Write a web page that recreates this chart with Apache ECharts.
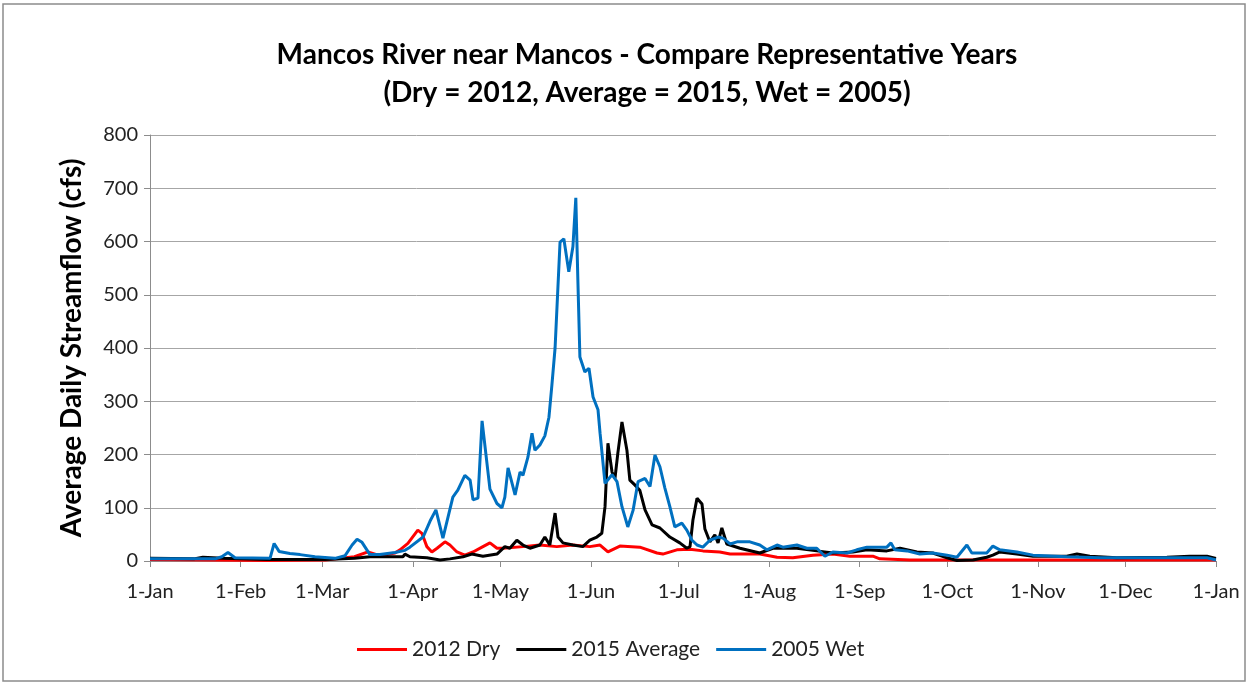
<!DOCTYPE html>
<html>
<head>
<meta charset="utf-8">
<title>Mancos River near Mancos</title>
<script src="https://cdn.jsdelivr.net/npm/echarts@6/dist/echarts.min.js"></script>
<style>
  html, body { margin: 0; padding: 0; background: #fff; }
  #chart { width: 1249px; height: 685px; }
</style>
</head>
<body>
<div id="chart"></div>
<script>
// x = day of year (0 = 1-Jan), y = cfs
var monthDays = [0, 31, 59, 90, 120, 151, 181, 212, 243, 273, 304, 334, 365];
var monthLabels = ["1-Jan", "1-Feb", "1-Mar", "1-Apr", "1-May", "1-Jun", "1-Jul",
  "1-Aug", "1-Sep", "1-Oct", "1-Nov", "1-Dec", "1-Jan"];
var yTicks = [0, 100, 200, 300, 400, 500, 600, 700, 800];

var seriesNames = ["2012 Dry", "2015 Average", "2005 Wet"];

// 2012 Dry
var dryData = [
  [0, 3], [20, 2], [40, 1], [60, 2], [70, 8], [74.6, 17], [78.7, 10], [83.9, 15],
  [85.6, 21], [88.3, 33], [91.7, 58], [93.1, 52], [94.8, 27], [96.5, 17], [98.3, 24],
  [101, 36], [102.7, 30], [105.1, 17], [107.8, 11], [110.6, 17], [114, 27], [116.4, 34],
  [118.8, 24], [120.8, 24], [127.7, 27], [133.5, 30], [139.3, 27], [144.8, 30],
  [150.6, 27], [154.1, 30], [156.8, 17], [160.9, 28], [167.7, 26], [173.6, 15],
  [175.6, 13], [180.4, 21], [184.9, 22], [189.3, 19], [195.1, 17], [198.6, 13],
  [208.8, 13], [214.7, 7], [220.1, 6], [227, 11], [233.8, 13], [239.6, 9], [247.5, 9],
  [249.9, 4], [260.2, 2], [268, 2], [300, 2], [340, 2], [365, 2]
];

// 2015 Average
var avgData = [
  [0, 5], [15, 4], [18.1, 7], [25, 5], [40, 3], [60, 3], [70, 5], [75.3, 8], [86.6, 8],
  [87.3, 13], [89, 8], [94.8, 6], [99.3, 2], [102.7, 4], [107.2, 8], [110.2, 13],
  [114, 9], [118.8, 13], [121.5, 27], [123.2, 24], [125.6, 39], [127.7, 30], [130.1, 24],
  [133.5, 30], [135.2, 45], [136.9, 30], [138.7, 90], [139.7, 45], [141.4, 34],
  [144.8, 30], [148.2, 27], [150.6, 39], [153, 45], [154.7, 52], [155.8, 102],
  [156.8, 221], [158.2, 167], [159.2, 155], [160.2, 203], [161.6, 261], [163.3, 208],
  [164.3, 152], [166, 143], [167.7, 133], [169.5, 96], [171.9, 68], [174.6, 62],
  [178, 45], [181.4, 34], [183.8, 24], [184.9, 27], [185.9, 77], [187.3, 118],
  [189, 107], [190, 60], [191.7, 36], [193.4, 49], [194.5, 34], [195.8, 62],
  [197.5, 32], [202, 24], [208.8, 15], [213.3, 24], [221.5, 24], [228.3, 19],
  [233.8, 15], [240.7, 17], [245.5, 21], [252.3, 19], [256.8, 24], [262.6, 17],
  [268, 15], [272.9, 6], [276.3, 1], [281.8, 2], [286.5, 7], [288.6, 11], [291, 17],
  [296.8, 13], [302.3, 9], [313.9, 9], [317.4, 13], [321.8, 9], [331, 6], [348.2, 7],
  [356, 9], [361.9, 9], [365, 5]
];

// 2005 Wet
var wetData = [
  [0, 4], [22.3, 4], [24.6, 8], [26.7, 16], [29.1, 6], [41.1, 5], [42.5, 33],
  [44.2, 18], [47.9, 14], [51.4, 12], [56.5, 8], [63.3, 5], [66.8, 10], [69.2, 30],
  [70.9, 41], [72.6, 35], [75.3, 12], [78.7, 12], [83.9, 16], [87.3, 20], [89, 26],
  [93.5, 45], [95.9, 75], [97.9, 96], [100.3, 43], [103.7, 120], [105.4, 133],
  [107.8, 161], [109.6, 152], [110.6, 115], [112.3, 118], [113.7, 263], [116.4, 135],
  [118.8, 108], [120.5, 100], [121.5, 120], [122.6, 175], [125, 124], [126.7, 167],
  [127.7, 161], [129.4, 195], [130.8, 240], [131.8, 208], [133.5, 218], [135.2, 235],
  [136.6, 270], [137.6, 330], [138.7, 400], [140.4, 599], [141.7, 605], [143.4, 543],
  [144.8, 590], [145.8, 682], [146.5, 528], [147.2, 383], [148.9, 355], [150.3, 362],
  [151.7, 308], [153.4, 284], [154.1, 240], [155.8, 146], [158.2, 162], [159.9, 149],
  [161.6, 102], [163.6, 64], [165.4, 95], [167.1, 149], [169.5, 155], [171.2, 140],
  [172.9, 199], [174.6, 177], [176.3, 137], [178, 102], [179.7, 64], [182.1, 71],
  [183.8, 58], [185.6, 39], [187.3, 30], [189.3, 26], [191.7, 39], [194.5, 45],
  [196.2, 43], [198.6, 32], [201, 36], [205.4, 36], [208.8, 30], [211.2, 21],
  [214.7, 30], [216.7, 26], [221.5, 30], [224.9, 24], [228.3, 24], [231.1, 9],
  [233.8, 17], [238.6, 15], [242, 21], [245.5, 26], [252.3, 26], [253.7, 34], [255, 21],
  [259.2, 19], [263.6, 13], [268, 15], [272.9, 11], [276.3, 7], [279.7, 30], [281.4, 15],
  [286.5, 15], [288.6, 28], [291, 21], [296.8, 17], [302.3, 11], [313.9, 8],
  [325.2, 6], [336.5, 6], [353.6, 6], [361.9, 6], [365, 2]
];

var colors = ["#ff0000", "#000000", "#0070c0"];
var FONT = "Lato, 'Open Sans', sans-serif";

var myChart = echarts.init(document.getElementById("chart"));

myChart.setOption({
  animation: false,
  color: colors,
  textStyle: { fontFamily: FONT },
  graphic: [
    {
      type: "rect",
      shape: { x: 3, y: 4, width: 1242, height: 677 },
      style: { fill: "none", stroke: "#8c8c8c", lineWidth: 1.5 },
      silent: true
    },
    {
      type: "text",
      x: 647, y: 55,
      style: {
        text: "Mancos River near Mancos - Compare Representative Years",
        font: "bold 28px " + FONT, fill: "#000",
        textAlign: "center", textVerticalAlign: "middle"
      }
    },
    {
      type: "text",
      x: 647, y: 93,
      style: {
        text: "(Dry = 2012, Average = 2015, Wet = 2005)",
        font: "bold 28px " + FONT, fill: "#000",
        textAlign: "center", textVerticalAlign: "middle"
      }
    }
  ],
  grid: { left: 150, right: 33, top: 135, bottom: 124 },
  legend: {
    left: 352, top: 634,
    icon: "rect",
    itemWidth: 50, itemHeight: 3, itemGap: 16,
    textStyle: { fontSize: 21, color: "#222", fontFamily: FONT },
    data: seriesNames
  },
  xAxis: {
    type: "value",
    min: 0, max: 365,
    splitLine: { show: false },
    axisLine: { lineStyle: { color: "#8c8c8c", width: 1 } },
    axisTick: {
      show: true, inside: false, length: 6,
      customValues: monthDays,
      lineStyle: { color: "#8c8c8c" }
    },
    axisLabel: {
      customValues: monthDays,
      fontSize: 20, color: "#222", margin: 21,
      formatter: function (v) {
        var i = monthDays.indexOf(v);
        return i >= 0 ? monthLabels[i] : "";
      }
    }
  },
  yAxis: {
    type: "value",
    min: 0, max: 800, interval: 100,
    name: "Average Daily Streamflow (cfs)",
    nameLocation: "middle", nameRotate: 90, nameGap: 64,
    nameTextStyle: { fontSize: 28, fontWeight: "bold", color: "#000", fontFamily: FONT },
    axisLine: { show: true, lineStyle: { color: "#8c8c8c" } },
    axisTick: { show: true, length: 6, lineStyle: { color: "#8c8c8c" } },
    axisLabel: {
      fontSize: 20, color: "#222", margin: 12,
      formatter: function (v) { return yTicks.indexOf(v) >= 0 ? String(v) : ""; }
    },
    splitLine: { show: true, lineStyle: { color: "#a6a6a6", width: 1 } }
  },
  series: [
    { name: seriesNames[0], type: "line", data: dryData, showSymbol: false, lineStyle: { width: 3, color: colors[0] } },
    { name: seriesNames[1], type: "line", data: avgData, showSymbol: false, lineStyle: { width: 3, color: colors[1] } },
    { name: seriesNames[2], type: "line", data: wetData, showSymbol: false, lineStyle: { width: 3, color: colors[2] } }
  ]
});
</script>
</body>
</html>
